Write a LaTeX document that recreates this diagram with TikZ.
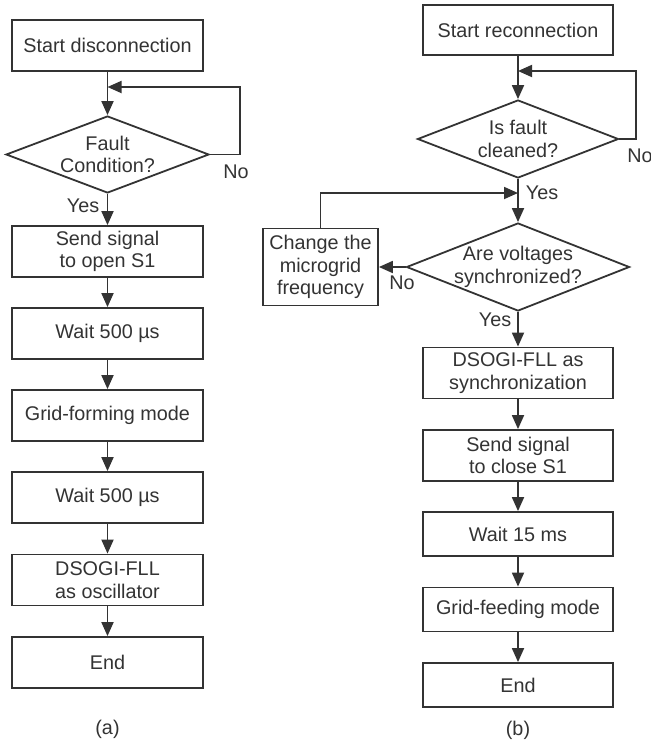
\documentclass[tikz,border=0pt]{standalone}
\usepackage{fontspec}
\setmainfont{Liberation Sans}
\usetikzlibrary{shapes.geometric,arrows.meta}

\begin{document}
\begin{tikzpicture}[x=0.5pt,y=-0.5pt,
    color=black!80, line width=0.9pt,
    font=\fontsize{9.9}{11.2}\selectfont,
    box/.style={draw,rectangle,align=center,minimum width=95.5pt,minimum height=25.5pt,inner sep=0.5pt},
    lowbox/.style={box,minimum width=95pt,minimum height=22pt},
    dia/.style={draw,diamond,aspect=2.6,align=center,inner sep=-4pt},
    arr/.style={-{Triangle[length=7pt,width=6pt]}},
    lbl/.style={inner sep=0pt}]
      \useasboundingbox (0,0) rectangle (650,744);

      % (a) disconnection
      \node[box] (startA) at (107.5,45.5) {Start disconnection};
      \node[dia,minimum width=101.5pt,minimum height=38.5pt] (faultA) at (107.5,154.5) {Fault\\Condition?};
      \node[box] (sendA) at (107.5,251.5) {Send signal\\to open S1};
      \node[box] (waitA1) at (107.5,333.5) {Wait 500 µs};
      \node[box] (formA) at (107.5,415.5) {Grid-forming mode};
      \node[box] (waitA2) at (107.5,497.5) {Wait 500 µs};
      \node[box] (oscA) at (107.5,580) {DSOGI-FLL\\as oscillator};
      \node[box] (endA) at (107.5,662.5) {End};
      \node (capA) at (107.5,729) {(a)};

      \coordinate (joinA) at (107.5,87);
      \coordinate (loopA) at (240,87);
      \draw[arr] (startA) -- (faultA);
      \draw[arr] (faultA.east) -| (loopA) -- (joinA);
      \draw[arr] (faultA) -- (sendA);
      \node[lbl] (noA) at (236,172) {No};
      \node[lbl] (yesA) at (83,206) {Yes};
      \foreach \a/\b in {sendA/waitA1,waitA1/formA,formA/waitA2,waitA2/oscA,oscA/endA}
          \draw[arr] (\a) -- (\b);

      % (b) reconnection
      \node[box,minimum width=95pt,minimum height=25pt] (startB) at (518,30) {Start reconnection};
      \node[dia,minimum width=100.5pt,minimum height=39pt] (cleanB) at (518,139) {Is fault\\cleaned?};
      \node[dia,minimum width=111.5pt,minimum height=44pt] (syncQB) at (518,267) {Are voltages\\synchronized?};
      \node[box,minimum width=57.5pt,minimum height=38.5pt] (changeB) at (320.5,267) {Change the\\microgrid\\frequency};
      \node[box,minimum width=95pt] (syncB) at (518,373) {DSOGI-FLL as\\synchronization};
      \node[box,minimum width=95pt] (sendB) at (518,455.5) {Send signal\\to close S1};
      \node[lowbox] (waitB) at (518,534) {Wait 15 ms};
      \node[lowbox] (feedB) at (518,609.5) {Grid-feeding mode};
      \node[lowbox] (endB) at (518,685) {End};
      \node (capB) at (518,730) {(b)};

      \coordinate (joinB) at (518,71);
      \coordinate (loopB) at (636,71);
      \coordinate (joinB2) at (518,193);
      \draw[arr] (startB) -- (cleanB);
      \draw[arr] (cleanB.east) -| (loopB) -- (joinB);
      \draw[arr] (cleanB) -- (syncQB);
      \draw[arr] (syncQB.west) -- (changeB.east);
      \draw[arr] (changeB.north) |- (joinB2);
      \draw[arr] (syncQB) -- (syncB);
      \node[lbl] (noB1) at (640,156) {No};
      \node[lbl] (yesB1) at (542,193) {Yes};
      \node[lbl] (noB2) at (402,283) {No};
      \node[lbl] (yesB2) at (495,320) {Yes};
      \foreach \a/\b in {syncB/sendB,sendB/waitB,waitB/feedB,feedB/endB}
          \draw[arr] (\a) -- (\b);

    \end{tikzpicture}
\end{document}
